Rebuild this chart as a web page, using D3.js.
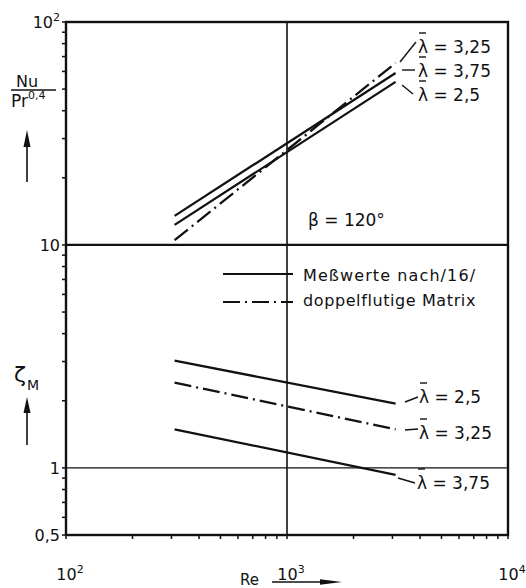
<!DOCTYPE html>
<html>
<head>
<meta charset="utf-8">
<script src="https://cdn.jsdelivr.net/npm/d3@7"></script>
<style>
  body { margin: 0; background: #fff; }
  svg text { font-family: "DejaVu Sans", "Liberation Sans", sans-serif; fill: #111; }
</style>
</head>
<body>
<div id="chart"></div>
<script>
// Reynolds range of all measured lines
var re = [310, 3100];
// Nu / Pr^0.4 (upper panel)
var nuLam250 = [12.3, 53.9];
var nuLam325 = [10.5, 65.5];
var nuLam375 = [13.5, 59.1];
// zeta_M (lower panel)
var zetaLam250 = [3.03, 1.94];
var zetaLam325 = [2.41, 1.49];
var zetaLam375 = [1.49, 0.93];
// tick labels
var yTicks = [0.5, 1, 10, 100];
var yTickLabels = ["0,5", "1", "10", "10²"];
var xTicks = [100, 1000, 10000];
var xTickLabels = ["2", "3", "4"];

var W = 526, H = 588;
var svg = d3.select("#chart").append("svg").attr("width", W).attr("height", H);

var x = d3.scaleLog().domain([100, 10000]).range([66, 508]);
var y = d3.scaleLog().domain([0.5, 100]).range([535, 22]);

var dashDot = "17,5,2,5";

// minor ticks left
var minorY = [];
[0.1, 1, 10].forEach(function(dec){
  for (var k = 1; k <= 9; k++) {
    var v = k * dec;
    if (v >= 0.5 && v <= 100) minorY.push(v);
  }
});
minorY.push(100);
svg.append("g").selectAll("line").data(minorY).enter().append("line")
  .attr("x1", x(100) - 4).attr("x2", x(100))
  .attr("y1", function(d){ return y(d); }).attr("y2", function(d){ return y(d); })
  .attr("stroke", "#111").attr("stroke-width", 1.5);

var minorX = [];
[100, 1000].forEach(function(dec){
  for (var k = 1; k <= 9; k++) minorX.push(k * dec);
});
minorX.push(10000);
svg.append("g").selectAll("line").data(minorX).enter().append("line")
  .attr("x1", function(d){ return x(d); }).attr("x2", function(d){ return x(d); })
  .attr("y1", y(0.5)).attr("y2", y(0.5) + 4)
  .attr("stroke", "#111").attr("stroke-width", 1.5);

// grid lines
svg.append("line").attr("x1", x(1000)).attr("x2", x(1000)).attr("y1", y(100)).attr("y2", y(0.5))
  .attr("stroke", "#111").attr("stroke-width", 1.6);
svg.append("line").attr("x1", x(100)).attr("x2", x(10000)).attr("y1", y(10)).attr("y2", y(10))
  .attr("stroke", "#111").attr("stroke-width", 2.2);
svg.append("line").attr("x1", x(100)).attr("x2", x(10000)).attr("y1", y(1)).attr("y2", y(1))
  .attr("stroke", "#111").attr("stroke-width", 1.3);

// frame
svg.append("rect").attr("x", x(100)).attr("y", y(100))
  .attr("width", x(10000) - x(100)).attr("height", y(0.5) - y(100))
  .attr("fill", "none").attr("stroke", "#111").attr("stroke-width", 2.4);

// y tick labels
svg.append("g").selectAll("text").data(yTicks).enter().append("text")
  .attr("x", x(100) - 6).attr("y", function(d){ return y(d) + 6; })
  .attr("text-anchor", "end").attr("font-size", 16)
  .each(function(d, i){
    var t = d3.select(this);
    if (d === 100) {
      t.append("tspan").text("10");
      t.append("tspan").attr("font-size", 11).attr("dy", -7).text("2");
    } else {
      t.text(yTickLabels[i]);
    }
  });

// x tick labels
svg.append("g").selectAll("text").data(xTicks).enter().append("text")
  .attr("x", function(d){ return x(d) + 4; }).attr("y", 580)
  .attr("text-anchor", "middle").attr("font-size", 16)
  .each(function(d, i){
    var t = d3.select(this);
    t.append("tspan").text("10");
    t.append("tspan").attr("font-size", 11).attr("dy", -7).text(xTickLabels[i]);
  });

// data lines
var line = d3.line().x(function(d){ return x(d[0]); }).y(function(d){ return y(d[1]); });
var series = [
  { v: nuLam250, dash: null },
  { v: nuLam375, dash: null },
  { v: nuLam325, dash: dashDot },
  { v: zetaLam250, dash: null },
  { v: zetaLam325, dash: dashDot },
  { v: zetaLam375, dash: null }
];
svg.append("g").selectAll("path").data(series).enter().append("path")
  .attr("d", function(s){ return line(d3.zip(re, s.v)); })
  .attr("fill", "none").attr("stroke", "#111").attr("stroke-width", 2.3)
  .attr("stroke-dasharray", function(s){ return s.dash; });

// lambda labels with leaders
function lamLabel(tx, ty, txt, leader) {
  svg.append("line").attr("x1", leader[0]).attr("y1", leader[1]).attr("x2", leader[2]).attr("y2", leader[3])
    .attr("stroke", "#111").attr("stroke-width", 1.4);
  svg.append("text").attr("x", tx).attr("y", ty).attr("font-size", 17).text("λ = " + txt);
  svg.append("line").attr("x1", tx + 1).attr("x2", tx + 8).attr("y1", ty - 20).attr("y2", ty - 20)
    .attr("stroke", "#111").attr("stroke-width", 1.4);
}
lamLabel(418, 53, "3,25", [400, 62, 416, 42]);
lamLabel(418, 77, "3,75", [402, 70, 415, 70]);
lamLabel(418, 101, "2,5", [402, 85, 413, 94]);
lamLabel(419, 403, "2,5", [405, 402, 418, 397]);
lamLabel(419, 439, "3,25", [405, 430, 418, 429]);
lamLabel(417, 489, "3,75", [398, 478, 415, 483]);

// beta
svg.append("text").attr("x", 308).attr("y", 226).attr("font-size", 17).text("β = 120°");

// legend
svg.append("line").attr("x1", 223).attr("x2", 293).attr("y1", 274).attr("y2", 274)
  .attr("stroke", "#111").attr("stroke-width", 2.2);
svg.append("line").attr("x1", 223).attr("x2", 293).attr("y1", 302).attr("y2", 302)
  .attr("stroke", "#111").attr("stroke-width", 2.2).attr("stroke-dasharray", dashDot);
svg.append("text").attr("x", 303).attr("y", 281).attr("font-size", 16).attr("letter-spacing", 1.1).text("Meßwerte nach/16/");
svg.append("text").attr("x", 303).attr("y", 306).attr("font-size", 16).attr("letter-spacing", 0.6).text("doppelflutige Matrix");

// y axis titles
svg.append("text").attr("x", 27).attr("y", 87).attr("text-anchor", "middle").attr("font-size", 16).text("Nu");
svg.append("line").attr("x1", 11).attr("x2", 56).attr("y1", 90).attr("y2", 90).attr("stroke", "#111").attr("stroke-width", 1.3);
var pr = svg.append("text").attr("x", 11).attr("y", 107).attr("font-size", 17);
pr.append("tspan").text("Pr");
pr.append("tspan").attr("font-size", 11).attr("dy", -8).text("0,4");

svg.append("text").attr("x", 14).attr("y", 382).attr("font-size", 22).text("ζ");
svg.append("text").attr("x", 27).attr("y", 390).attr("font-size", 14).text("M");

function arrow(x1, y1, x2, y2, len, half) {
  var ang = Math.atan2(y2 - y1, x2 - x1);
  var bx = x2 - len * Math.cos(ang), by = y2 - len * Math.sin(ang);
  var px = -Math.sin(ang) * half, py = Math.cos(ang) * half;
  svg.append("line").attr("x1", x1).attr("y1", y1).attr("x2", bx).attr("y2", by)
    .attr("stroke", "#111").attr("stroke-width", 1.6);
  svg.append("path").attr("d", "M" + x2 + "," + y2 + "L" + (bx + px) + "," + (by + py) + "L" + (bx - px) + "," + (by - py) + "Z")
    .attr("fill", "#111");
}
arrow(27, 182, 27, 130, 17, 3.5);
arrow(27, 445, 27, 397, 16, 3.5);

// x axis title
svg.append("text").attr("x", 240).attr("y", 585).attr("font-size", 15).text("Re");
arrow(272, 582, 342, 582, 22, 2.8);
</script>
</body>
</html>
